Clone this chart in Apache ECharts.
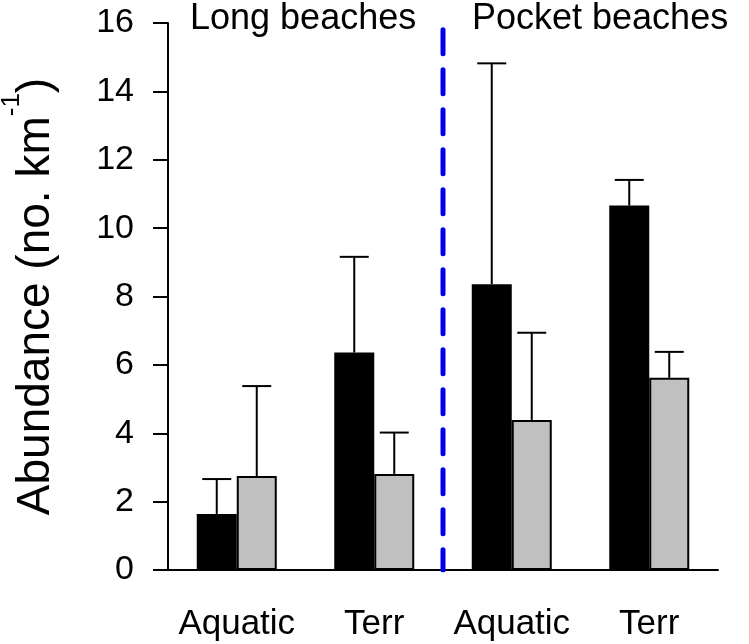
<!DOCTYPE html>
<html>
<head>
<meta charset="utf-8">
<script src="https://cdn.jsdelivr.net/npm/echarts@6/dist/echarts.min.js"></script>
<style>html,body{margin:0;padding:0;background:#fff;}#c{width:749px;height:644px;}</style>
</head>
<body>
<div id="c"></div>
<script>
const categories = ['Aquatic', 'Terr', 'Aquatic', 'Terr'];
const blackValues = [1.64, 6.36, 8.36, 10.66];
const blackUpper = [2.66, 9.16, 14.82, 11.41];
const grayValues = [2.75, 2.81, 4.39, 5.62];
const grayUpper = [5.38, 4.02, 6.94, 6.38];
const yTicks = [0, 2, 4, 6, 8, 10, 12, 14, 16];
const groupLabels = ['Long beaches', 'Pocket beaches'];
const dividerAt = 2;      // boundary between groups (in category units)
const dividerTop = 15.8;

const FONT = '"Liberation Sans", Arial, sans-serif';
const BAR_W = 40;
const CAP_HALF = 14.5;

function errSeries(values, upper, offset) {
  return {
    type: 'custom',
    xAxisIndex: 0,
    yAxisIndex: 0,
    z: 5,
    data: values.map((v, i) => [i, v, upper[i]]),
    renderItem: function (params, api) {
      const x = api.coord([api.value(0), 0])[0] + offset;
      const yLo = api.coord([api.value(0), api.value(1)])[1];
      const yHi = api.coord([api.value(0), api.value(2)])[1];
      const st = { stroke: '#000', lineWidth: 2 };
      return {
        type: 'group',
        children: [
          { type: 'line', shape: { x1: x, y1: yLo, x2: x, y2: yHi }, style: st },
          { type: 'line', shape: { x1: x - CAP_HALF, y1: yHi, x2: x + CAP_HALF, y2: yHi }, style: st }
        ]
      };
    }
  };
}

const chart = echarts.init(document.getElementById('c'));
chart.setOption({
  animation: false,
  backgroundColor: '#fff',
  textStyle: { fontFamily: FONT },
  grid: { left: 168, right: 31, top: 23, bottom: 74, containLabel: false, outerBoundsMode: 'none' },
  xAxis: [{
    type: 'category',
    data: categories,
    boundaryGap: true,
    axisLine: { lineStyle: { color: '#000', width: 2 } },
    axisTick: { alignWithLabel: true, length: 15, lineStyle: { color: '#000', width: 2 } },
    axisLabel: { color: '#000', fontSize: 35, fontFamily: FONT, margin: 37, interval: 0 },
    splitLine: { show: false }
  }, {
    type: 'value',
    min: 0, max: categories.length,
    show: false
  }],
  yAxis: {
    type: 'value',
    min: yTicks[0], max: yTicks[yTicks.length - 1], interval: 2,
    axisLine: { show: true, lineStyle: { color: '#000', width: 2 } },
    axisTick: { show: true, length: 15, lineStyle: { color: '#000', width: 2 } },
    axisLabel: { color: '#000', fontSize: 34, fontFamily: FONT, margin: 34 },
    splitLine: { show: false },
    name: '{m|Abundance (no. km}{s|-1}{m|)}',
    nameLocation: 'middle',
    nameRotate: 90,
    nameGap: 109,
    nameTextStyle: {
      color: '#000', fontFamily: FONT,
      rich: {
        m: { fontSize: 46, fontFamily: FONT, color: '#000', lineHeight: 60, verticalAlign: 'bottom' },
        s: { fontSize: 26, fontFamily: FONT, color: '#000', lineHeight: 60, verticalAlign: 'top' }
      }
    }
  },
  series: [
    {
      type: 'bar', data: blackValues, barWidth: BAR_W, barGap: '0%',
      itemStyle: { color: '#000', borderColor: '#000', borderWidth: 2 }
    },
    {
      type: 'bar', data: grayValues, barWidth: BAR_W, barGap: '0%',
      itemStyle: { color: '#c0c0c0', borderColor: '#000', borderWidth: 2 }
    },
    errSeries(blackValues, blackUpper, -BAR_W / 2),
    errSeries(grayValues, grayUpper, BAR_W / 2),
    {
      type: 'line',
      xAxisIndex: 1,
      yAxisIndex: 0,
      data: [[dividerAt, dividerTop], [dividerAt, 0]],
      symbol: 'none',
      z: 6,
      lineStyle: { color: '#0000f0', width: 5, type: [24, 16], cap: 'round' }
    }
  ],
  graphic: [
    { type: 'text', left: 190, top: 1, style: { text: groupLabels[0], font: '36px ' + FONT, fill: '#000' } },
    { type: 'text', left: 472, top: 1, style: { text: groupLabels[1], font: '36px ' + FONT, fill: '#000' } }
  ]
});
</script>
</body>
</html>
